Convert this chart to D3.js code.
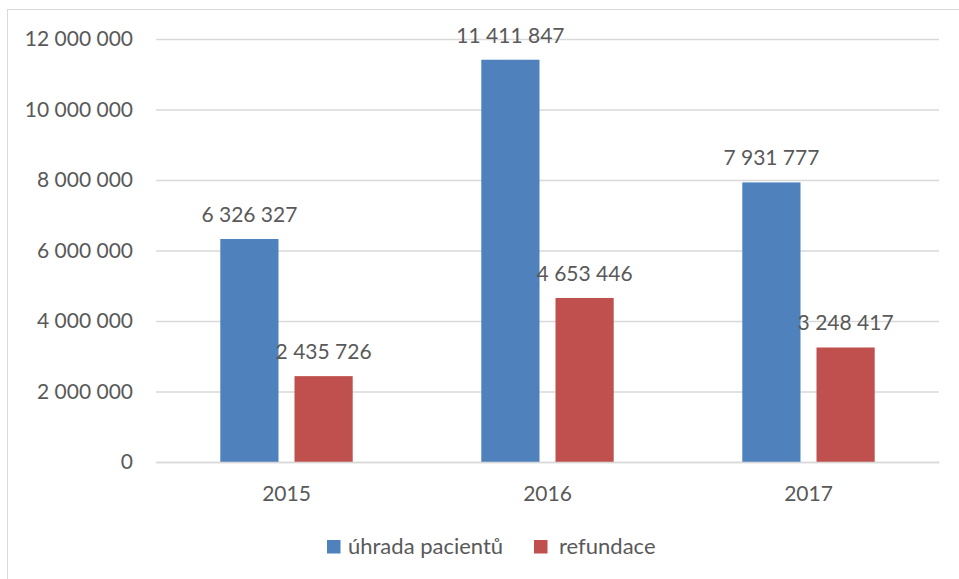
<!DOCTYPE html>
<html>
<head>
<meta charset="utf-8">
<script src="https://cdn.jsdelivr.net/npm/d3@7"></script>
<style>
  html, body { margin: 0; padding: 0; background: #fff; }
  svg { display: block; }
  text { font-family: Lato, "Open Sans", sans-serif; fill: #595959; }
</style>
</head>
<body>
<svg id="chart" width="959" height="579"></svg>
<script>
const categories = ["2015", "2016", "2017"];
const seriesNames = ["úhrada pacientů", "refundace"];
const uhradaPacientu = [6326327, 11411847, 7931777];
const refundace = [2435726, 4653446, 3248417];
const yTicks = [0, 2000000, 4000000, 6000000, 8000000, 10000000, 12000000];
const colors = ["#4F81BD", "#C0504D"];

const seriesValues = [uhradaPacientu, refundace];
const rows = categories.map((c, i) => ({ cat: c, vals: seriesValues.map(s => s[i]) }));

const svg = d3.select("#chart");
const W = 959, H = 579;
const margin = { left: 156, right: 20, top: 39, bottom: 117 };
const plotW = 939 - margin.left;
const plotH = 462 - margin.top;

const loc = d3.formatLocale({ decimal: ",", thousands: " ", grouping: [3], currency: ["", ""] });
const fmt = loc.format(",");

// chart border
svg.append("rect")
  .attr("x", 7.5).attr("y", 9.5)
  .attr("width", W + 10).attr("height", H + 10)
  .attr("fill", "none").attr("stroke", "#D9D9D9").attr("stroke-width", 1);

const g = svg.append("g").attr("transform", `translate(${margin.left},${margin.top})`);

const y = d3.scaleLinear().domain([0, 12000000]).range([plotH, 0]);
const x0 = d3.scaleBand().domain(categories).range([0, plotW]).paddingInner(0).paddingOuter(0);
const x1 = d3.scaleBand().domain(d3.range(seriesNames.length)).range([0, x0.bandwidth()])
  .paddingInner(0.2156).paddingOuter(0.8666);

// gridlines
const yAxis = d3.axisLeft(y).tickValues(yTicks).tickSize(-plotW).tickPadding(23).tickFormat(d => fmt(d));
const ya = g.append("g").call(yAxis);
ya.select(".domain").remove();
ya.selectAll(".tick line").attr("stroke", "#D9D9D9").attr("stroke-width", 1.5);
ya.selectAll(".tick text")
  .style("font-family", "Lato, sans-serif")
  .attr("font-size", 21).attr("fill", "#595959");

// bars
const groups = g.selectAll(".grp").data(rows).join("g")
  .attr("transform", d => `translate(${x0(d.cat)},0)`);

groups.selectAll("rect").data(d => d.vals.map((v, i) => ({ v, i }))).join("rect")
  .attr("x", d => x1(d.i))
  .attr("width", x1.bandwidth())
  .attr("y", d => y(d.v))
  .attr("height", d => plotH - y(d.v))
  .attr("fill", d => colors[d.i]);

groups.selectAll("text.val").data(d => d.vals.map((v, i) => ({ v, i }))).join("text")
  .attr("class", "val")
  .attr("x", d => x1(d.i) + x1.bandwidth() / 2)
  .attr("y", d => y(d.v) - 17)
  .attr("text-anchor", "middle")
  .attr("font-size", 21)
  .text(d => fmt(d.v));

// x axis labels
const xAxis = d3.axisBottom(x0).tickSize(0).tickPadding(24);
const xa = g.append("g").attr("transform", `translate(0,${plotH})`).call(xAxis);
xa.select(".domain").attr("stroke", "#D9D9D9").attr("stroke-width", 1.5);
xa.selectAll(".tick text")
  .style("font-family", "Lato, sans-serif")
  .attr("font-size", 21).attr("fill", "#595959");

// legend
const legendItems = [
  { name: seriesNames[0], color: colors[0], sx: 327, tx: 348 },
  { name: seriesNames[1], color: colors[1], sx: 534, tx: 559 }
];
const lg = svg.append("g");
lg.selectAll("rect").data(legendItems).join("rect")
  .attr("x", d => d.sx).attr("y", 540).attr("width", 13.5).attr("height", 13.5)
  .attr("fill", d => d.color);
lg.selectAll("text").data(legendItems).join("text")
  .attr("x", d => d.tx).attr("y", 554)
  .attr("font-size", 22)
  .text(d => d.name);
</script>
</body>
</html>
